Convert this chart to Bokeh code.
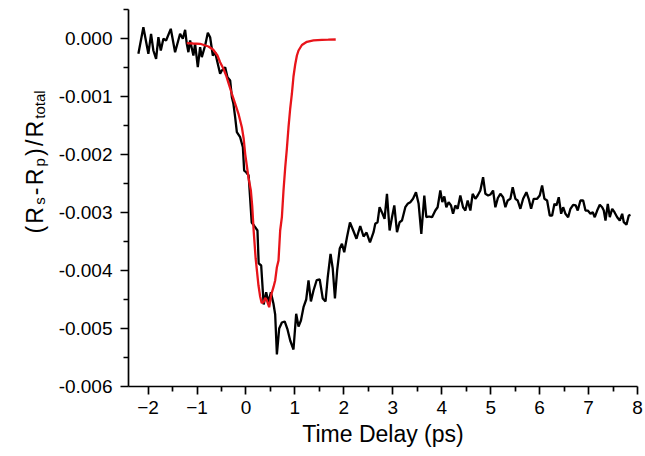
from bokeh.plotting import figure
from bokeh.layouts import row
from bokeh.models import FixedTicker, PrintfTickFormatter, Range1d, ColumnDataSource
from bokeh.embed import file_html
from bokeh.resources import INLINE
from bokeh.core.properties import value

# ---- data ----
black_t = [-2.198, -2.096, -1.994, -1.939, -1.892, -1.836, -1.789, -1.740, -1.687, -1.632,
           -1.536, -1.448, -1.346, -1.290, -1.243, -1.209, -1.176, -1.141, -1.074, -1.039,
           -0.984, -0.937, -0.902, -0.834, -0.779, -0.732, -0.677, -0.630, -0.583, -0.528,
           -0.493, -0.425, -0.378, -0.323, -0.288, -0.256, -0.221, -0.186, -0.119, -0.063,
           -0.037, 0.004, 0.055, 0.117, 0.188, 0.235, 0.260, 0.311, 0.362, 0.413,
           0.460, 0.509, 0.562, 0.597, 0.632, 0.679, 0.734, 0.791, 0.849, 0.904,
           0.971, 1.026, 1.074, 1.123, 1.176, 1.231, 1.278, 1.327, 1.380, 1.446,
           1.507, 1.569, 1.626, 1.671, 1.728, 1.773, 1.818, 1.865, 1.916, 1.961,
           2.008, 2.063, 2.125, 2.192, 2.258, 2.335, 2.403, 2.464, 2.534, 2.607,
           2.642, 2.689, 2.730, 2.791, 2.832, 2.881, 2.935, 2.984, 3.031, 3.086,
           3.139, 3.188, 3.256, 3.303, 3.358, 3.413, 3.474, 3.528, 3.583, 3.644,
           3.685, 3.740, 3.802, 3.869, 3.916, 3.971, 4.012, 4.053, 4.094, 4.141,
           4.190, 4.231, 4.278, 4.325, 4.380, 4.436, 4.483, 4.530, 4.585, 4.632,
           4.687, 4.734, 4.789, 4.845, 4.892, 4.947, 4.994, 5.049, 5.096, 5.147,
           5.198, 5.254, 5.301, 5.348, 5.403, 5.450, 5.505, 5.552, 5.607, 5.663,
           5.730, 5.777, 5.826, 5.879, 5.949, 6.002, 6.051, 6.098, 6.153, 6.207,
           6.256, 6.303, 6.344, 6.391, 6.440, 6.481, 6.528, 6.583, 6.630, 6.685,
           6.738, 6.779, 6.834, 6.890, 6.937, 6.984, 7.039, 7.086, 7.127, 7.176,
           7.229, 7.278, 7.311, 7.346, 7.393, 7.434, 7.483, 7.530, 7.585, 7.638,
           7.687, 7.720, 7.775, 7.822, 7.857]
black_v = [-0.000264, 0.000195, -0.000264, 0.000081, -0.000207, -0.000350, 0.000022, -0.000207, -0.000005, -0.000034,
           0.000167, -0.000236, 0.000081, -0.000005, 0.000150, -0.000091, -0.000236, -0.000034, -0.000293, -0.000091,
           -0.000495, -0.000150, -0.000322, -0.000121, 0.000098, 0.000022, -0.000293, -0.000236, -0.000409, -0.000609,
           -0.000552, -0.000495, -0.000667, -0.000724, -0.001012, -0.001126, -0.001357, -0.001616, -0.001702, -0.001874,
           -0.002276, -0.002305, -0.002362, -0.003172, -0.003253, -0.003310, -0.003879, -0.003914, -0.004586, -0.004374,
           -0.004547, -0.004374, -0.004574, -0.004759, -0.005448, -0.005000, -0.004897, -0.004879, -0.005017, -0.005207,
           -0.005362, -0.004747, -0.004966, -0.004862, -0.004633, -0.004500, -0.004172, -0.004534, -0.004345, -0.004164,
           -0.004155, -0.004483, -0.004534, -0.004116, -0.003712, -0.003966, -0.004483, -0.003983, -0.003621, -0.003540,
           -0.003684, -0.003431, -0.003172, -0.003310, -0.003453, -0.003233, -0.003414, -0.003345, -0.003517, -0.003340,
           -0.003195, -0.003167, -0.002909, -0.003022, -0.003109, -0.002678, -0.003310, -0.003081, -0.002879, -0.003340,
           -0.003167, -0.003138, -0.002909, -0.002850, -0.002822, -0.002764, -0.002650, -0.002850, -0.003367, -0.002707,
           -0.003081, -0.003069, -0.003081, -0.002966, -0.002909, -0.002621, -0.002822, -0.002724, -0.002909, -0.002822,
           -0.002879, -0.003022, -0.002879, -0.002936, -0.002707, -0.002909, -0.002966, -0.002793, -0.002966, -0.002678,
           -0.002764, -0.002707, -0.002621, -0.002391, -0.002678, -0.002707, -0.002690, -0.002621, -0.002909, -0.002750,
           -0.002678, -0.002736, -0.002909, -0.002793, -0.002764, -0.002564, -0.002764, -0.002793, -0.002936, -0.002764,
           -0.002650, -0.002764, -0.002936, -0.002764, -0.002764, -0.002707, -0.002534, -0.002764, -0.002793, -0.003052,
           -0.003052, -0.002850, -0.002879, -0.002736, -0.003022, -0.002909, -0.003022, -0.003081, -0.002936, -0.002867,
           -0.002879, -0.002966, -0.002793, -0.002793, -0.002966, -0.002966, -0.003022, -0.002995, -0.003081, -0.002966,
           -0.002867, -0.002909, -0.002966, -0.003138, -0.002850, -0.003081, -0.002936, -0.002995, -0.003081, -0.003138,
           -0.003022, -0.003167, -0.003212, -0.003052, -0.003040]

red_t = [-1.209, -1.080, -0.937, -0.767, -0.665, -0.583, -0.528, -0.460, -0.405, -0.358,
         -0.288, -0.231, -0.153, -0.084, -0.047, -0.016, 0.051, 0.100, 0.127, 0.157,
         0.198, 0.256, 0.290, 0.321, 0.358, 0.393, 0.427, 0.474, 0.521, 0.562,
         0.597, 0.632, 0.665, 0.699, 0.734, 0.767, 0.802, 0.836, 0.869, 0.904,
         0.939, 0.971, 1.006, 1.041, 1.074, 1.143, 1.245, 1.380, 1.552, 1.681, 1.834]
red_v = [-0.000081, -0.000086, -0.000091, -0.000138, -0.000195, -0.000293, -0.000409, -0.000522, -0.000638, -0.000767,
         -0.000953, -0.001095, -0.001298, -0.001529, -0.001724, -0.001988, -0.002397, -0.002621, -0.002879, -0.003310,
         -0.003793, -0.004259, -0.004448, -0.004560, -0.004547, -0.004474, -0.004517, -0.004633, -0.004402, -0.004288,
         -0.004172, -0.003943, -0.003828, -0.003310, -0.003081, -0.002621, -0.002224, -0.001897, -0.001534, -0.001207,
         -0.000948, -0.000655, -0.000448, -0.000293, -0.000207, -0.000112, -0.000057, -0.000034, -0.000022, -0.000021, -0.000017]

x_ticks = [-2, -1, 0, 1, 2, 3, 4, 5, 6, 7, 8]
x_minor = [-1.5, -0.5, 0.5, 1.5, 2.5, 3.5, 4.5, 5.5, 6.5, 7.5]
y_ticks = [-0.006, -0.005, -0.004, -0.003, -0.002, -0.001, 0.0]
y_minor = [-0.0055, -0.0045, -0.0035, -0.0025, -0.0015, -0.0005, 0.0005]

x_title = "Time Delay (ps)"
y_title_parts = [("(", False), ("R", False), ("s", True), ("-", False), ("R", False),
                 ("p", True), (")", False), ("/", False), ("R", False), ("total", True)]

FONT = "Liberation Sans"
W, H = 645, 456
LBL_W = 55
TOP, BOTTOM = 9, 70

# ---- main plot ----
p = figure(width=W - LBL_W, height=H, x_range=Range1d(-2.4, 8.0), y_range=Range1d(-0.006, 0.0005),
           output_backend="svg", toolbar_location=None,
           min_border_left=128 - LBL_W, min_border_right=8, min_border_top=TOP, min_border_bottom=BOTTOM)
p.outline_line_color = None
p.grid.visible = False
p.background_fill_color = "white"
p.border_fill_color = "white"

for ax in (p.xaxis[0], p.yaxis[0]):
    ax.axis_line_width = 1.7
    ax.axis_line_color = "black"
    ax.major_tick_line_width = 1.7
    ax.minor_tick_line_width = 1.7
    ax.major_tick_line_color = "black"
    ax.minor_tick_line_color = "black"
    ax.major_tick_in = 0
    ax.major_tick_out = 8
    ax.minor_tick_in = 0
    ax.minor_tick_out = 5
    ax.major_label_text_font = FONT
    ax.major_label_text_font_size = "19px"
    ax.major_label_text_color = "black"

p.xaxis[0].ticker = FixedTicker(ticks=x_ticks, minor_ticks=x_minor)
p.yaxis[0].ticker = FixedTicker(ticks=y_ticks, minor_ticks=y_minor)
p.yaxis[0].formatter = PrintfTickFormatter(format="%.3f")
p.xaxis[0].major_label_standoff = 6
p.yaxis[0].major_label_standoff = 8
p.yaxis[0].axis_label = None

p.xaxis[0].axis_label = x_title
p.xaxis[0].axis_label_text_font = FONT
p.xaxis[0].axis_label_text_font_size = "23px"
p.xaxis[0].axis_label_text_font_style = "normal"
p.xaxis[0].axis_label_text_color = "black"
p.xaxis[0].axis_label_standoff = 4

p.line(black_t, black_v, line_color="black", line_width=2.3)
p.line(red_t, red_v, line_color="#e8141a", line_width=2.3)

# ---- y-axis title panel (rotated, with subscripts) ----
lp = figure(width=LBL_W, height=H, x_range=Range1d(0, LBL_W), y_range=Range1d(BOTTOM, H - TOP),
            output_backend="svg", toolbar_location=None,
            x_axis_location=None, y_axis_location=None,
            min_border_left=0, min_border_right=0, min_border_top=TOP, min_border_bottom=BOTTOM)
lp.outline_line_color = None
lp.grid.visible = False
lp.background_fill_color = "white"
lp.border_fill_color = "white"

widths = {"(": 0.333, "R": 0.722, "-": 0.333, ")": 0.333, "/": 0.278,
          "s": 0.5, "p": 0.556, "total": 1.889}
main_fs, sub_fs = 23, 15
main_base, sub_base = 42.0, 44.5       # wanted baseline column (pixels from left)
anchor_k = 0.3465                      # anchor sits this many em above the drawn baseline
gap = 2.2
pos = H - 233                          # start of text (pixel row 233)
xs, ys, ts, fs = [], [], [], []
for t, sub in y_title_parts:
    size = sub_fs if sub else main_fs
    base = sub_base if sub else main_base
    xs.append(base - anchor_k * size)
    ys.append(pos)
    ts.append(t)
    fs.append(f"{size}px")
    pos += widths[t] * size + gap
src = ColumnDataSource(dict(x=xs, y=ys, text=ts, size=fs))
lp.text(x="x", y="y", text="text", source=src, angle=1.5708, text_font=value(FONT),
        text_font_size="size", text_align="left", text_baseline="alphabetic", text_color="black")

layout = row(lp, p)
open("out.html", "w").write(file_html(layout, INLINE))
